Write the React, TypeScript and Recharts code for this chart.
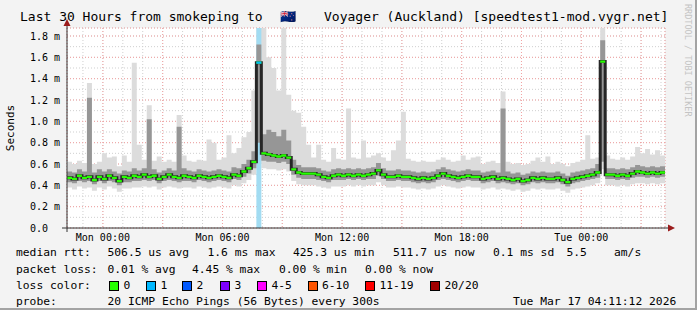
import {
  Area,
  CartesianGrid,
  ComposedChart,
  Line,
  ReferenceArea,
  XAxis,
  YAxis,
} from "recharts";

// samples every 15 min, hours counted from Mon 00:00
const START_HOUR = -1.8;
const STEP_HOUR = 0.25;

const median = [
  0.47, 0.46, 0.49, 0.47, 0.48, 0.45, 0.48, 0.46, 0.49, 0.47,
  0.44, 0.48, 0.47, 0.49, 0.48, 0.50, 0.48, 0.49, 0.46, 0.48,
  0.50, 0.48, 0.47, 0.49, 0.48, 0.47, 0.49, 0.48, 0.47, 0.48,
  0.49, 0.48, 0.47, 0.50, 0.49, 0.53, 0.56, 0.62, 1.55, 0.70,
  0.69, 0.68, 0.67, 0.68, 0.66, 0.55, 0.52, 0.51, 0.51, 0.51,
  0.50, 0.48, 0.47, 0.49, 0.50, 0.49, 0.50, 0.49, 0.50, 0.49,
  0.50, 0.51, 0.54, 0.50, 0.48, 0.48, 0.49, 0.48, 0.48, 0.47,
  0.46, 0.47, 0.46, 0.47, 0.49, 0.51, 0.49, 0.48, 0.47, 0.48,
  0.49, 0.48, 0.48, 0.46, 0.47, 0.48, 0.46, 0.47, 0.46, 0.45,
  0.46, 0.44, 0.45, 0.47, 0.46, 0.47, 0.46, 0.46, 0.47, 0.45,
  0.43, 0.46, 0.47, 0.48, 0.49, 0.50, 0.52, 1.56, 0.50, 0.50,
  0.49, 0.50, 0.49, 0.51, 0.53, 0.52, 0.51, 0.52, 0.51, 0.52,
  0.51,
];

const lower = [
  0.43, 0.42, 0.44, 0.43, 0.44, 0.41, 0.44, 0.42, 0.44, 0.43,
  0.40, 0.43, 0.43, 0.44, 0.44, 0.45, 0.44, 0.45, 0.42, 0.44,
  0.45, 0.44, 0.43, 0.44, 0.44, 0.43, 0.45, 0.44, 0.43, 0.44,
  0.45, 0.44, 0.43, 0.46, 0.45, 0.48, 0.51, 0.56, 0.80, 0.63,
  0.62, 0.62, 0.61, 0.62, 0.60, 0.50, 0.47, 0.46, 0.46, 0.46,
  0.45, 0.44, 0.43, 0.45, 0.45, 0.45, 0.46, 0.45, 0.46, 0.45,
  0.46, 0.46, 0.49, 0.46, 0.44, 0.44, 0.45, 0.44, 0.44, 0.43,
  0.42, 0.43, 0.42, 0.43, 0.45, 0.46, 0.45, 0.44, 0.43, 0.44,
  0.45, 0.44, 0.44, 0.42, 0.43, 0.44, 0.42, 0.43, 0.42, 0.41,
  0.42, 0.40, 0.41, 0.43, 0.42, 0.43, 0.42, 0.42, 0.43, 0.41,
  0.39, 0.42, 0.43, 0.44, 0.45, 0.46, 0.47, 0.62, 0.46, 0.46,
  0.45, 0.46, 0.45, 0.47, 0.48, 0.48, 0.47, 0.48, 0.47, 0.48,
  0.47,
];

const upper = [
  0.53, 0.52, 0.55, 0.53, 1.22, 0.52, 0.55, 0.53, 0.55, 0.53,
  0.51, 0.54, 0.53, 0.56, 0.54, 0.56, 1.02, 0.55, 0.52, 0.54,
  0.56, 0.54, 0.95, 0.56, 0.54, 0.53, 0.55, 0.54, 0.53, 0.54,
  0.55, 0.54, 0.53, 0.57, 0.56, 0.60, 0.64, 0.72, 1.72, 0.88,
  0.92, 0.90, 0.86, 0.92, 0.82, 0.64, 0.59, 0.57, 0.57, 0.57,
  0.56, 0.54, 0.53, 0.55, 0.56, 0.55, 0.56, 0.55, 0.56, 0.55,
  0.56, 0.57, 0.61, 0.56, 0.54, 0.54, 0.55, 0.54, 0.54, 0.53,
  0.52, 0.53, 0.52, 0.53, 0.55, 0.57, 0.55, 0.54, 0.53, 0.54,
  0.55, 0.54, 0.54, 0.52, 0.53, 0.54, 0.52, 1.12, 0.53, 0.51,
  0.52, 0.50, 0.51, 0.53, 0.52, 0.53, 0.52, 0.52, 0.53, 0.51,
  0.49, 0.52, 0.53, 0.54, 0.55, 0.56, 0.60, 1.76, 0.56, 0.56,
  0.55, 0.56, 0.55, 0.57, 0.59, 0.58, 0.57, 0.58, 0.57, 0.58,
  0.57,
];

const minRtt = [
  0.38, 0.36, 0.39, 0.37, 0.38, 0.35, 0.38, 0.36, 0.39, 0.37,
  0.34, 0.37, 0.37, 0.38, 0.38, 0.39, 0.38, 0.39, 0.36, 0.38,
  0.39, 0.38, 0.37, 0.38, 0.38, 0.37, 0.39, 0.38, 0.37, 0.38,
  0.39, 0.38, 0.37, 0.40, 0.39, 0.42, 0.45, 0.50, 0.60, 0.56,
  0.55, 0.55, 0.54, 0.55, 0.53, 0.44, 0.41, 0.40, 0.40, 0.40,
  0.39, 0.38, 0.37, 0.39, 0.39, 0.39, 0.40, 0.39, 0.40, 0.39,
  0.40, 0.40, 0.43, 0.40, 0.38, 0.38, 0.39, 0.38, 0.38, 0.37,
  0.36, 0.37, 0.36, 0.37, 0.39, 0.40, 0.39, 0.38, 0.37, 0.38,
  0.39, 0.38, 0.38, 0.36, 0.37, 0.38, 0.36, 0.37, 0.36, 0.35,
  0.36, 0.34, 0.35, 0.37, 0.36, 0.37, 0.36, 0.36, 0.37, 0.35,
  0.33, 0.36, 0.37, 0.38, 0.39, 0.40, 0.42, 0.55, 0.40, 0.40,
  0.39, 0.40, 0.39, 0.41, 0.42, 0.42, 0.41, 0.42, 0.41, 0.42,
  0.41,
];

const maxRtt = [
  0.62, 0.60, 0.63, 0.61, 1.36, 0.60, 0.62, 0.70, 0.66, 0.67,
  0.58, 0.68, 0.62, 1.55, 0.78, 0.64, 1.15, 0.63, 0.67, 0.62,
  0.64, 0.62, 1.06, 0.68, 0.63, 0.62, 0.64, 0.63, 0.83, 0.80,
  0.64, 0.66, 0.87, 0.70, 0.75, 0.85, 0.90, 1.29, 1.875, 1.875,
  1.60, 1.50, 1.29, 1.875, 1.25, 1.10, 1.08, 0.95, 0.78, 0.66,
  0.78, 0.64, 0.62, 0.75, 0.65, 0.64, 1.12, 0.66, 0.65, 0.82,
  0.66, 0.68, 0.70, 0.66, 0.63, 0.73, 0.82, 1.09, 0.65, 0.63,
  0.62, 0.63, 0.62, 0.62, 0.64, 0.66, 0.64, 0.62, 0.63, 0.68,
  0.64, 0.66, 0.67, 0.60, 0.62, 0.63, 0.61, 1.28, 0.62, 0.60,
  0.61, 0.59, 0.60, 0.63, 0.66, 0.62, 0.67, 0.60, 0.62, 0.60,
  0.58, 0.61, 0.62, 0.64, 0.87, 0.65, 0.66, 1.875, 0.68, 0.65,
  0.64, 0.66, 0.64, 0.67, 0.76, 0.70, 0.74, 0.69, 0.73, 0.68,
  0.66,
];

// sample indexes where one ping of 20 was lost
const lossSteps = [38];

const xTicks = [0, 6, 12, 18, 24];
const xTickLabels = ["Mon 00:00", "Mon 06:00", "Mon 12:00", "Mon 18:00", "Tue 00:00"];
const xMajor = [0, 3, 6, 9, 12, 15, 18, 21, 24, 27];
const xMinor = [
  -1, 0, 1, 2, 3, 4, 5, 6, 7, 8, 9, 10, 11, 12, 13, 14,
  15, 16, 17, 18, 19, 20, 21, 22, 23, 24, 25, 26, 27, 28,
];
const yTicks = [0, 0.2, 0.4, 0.6, 0.8, 1.0, 1.2, 1.4, 1.6, 1.8];
const yTickLabels = [
  "0.0\u00a0\u00a0", "0.2 m", "0.4 m", "0.6 m", "0.8 m",
  "1.0 m", "1.2 m", "1.4 m", "1.6 m", "1.8 m",
];
const yMinor = [
  0.1, 0.2, 0.3, 0.4, 0.5, 0.6, 0.7, 0.8, 0.9,
  1.0, 1.1, 1.2, 1.3, 1.4, 1.5, 1.6, 1.7, 1.8,
];

const lossLabels = ["0", "1", "2", "3", "4-5", "6-10", "11-19", "20/20"];
const lossColors = [
  "#26ff00", "#00b8ff", "#0059ff", "#7e00ff",
  "#ff00ff", "#ff5500", "#ff0000", "#a10000",
];

const MONO = "'DejaVu Sans Mono', monospace";
const X_DOMAIN: [number, number] = [-1.8, 28.2];
const Y_DOMAIN: [number, number] = [0, 1.875];
const MED_HALF = 0.011;

type Row = {
  t: number;
  lo: number;
  hi: number;
  q1: number;
  q3: number;
  med: number;
  loss: number | null;
};

const rows: Row[] = median.map((m, i) => ({
  t: START_HOUR + i * STEP_HOUR,
  lo: minRtt[i],
  hi: maxRtt[i],
  q1: lower[i],
  q3: upper[i],
  med: m,
  loss: lossSteps.includes(i) || lossSteps.includes(i - 1) ? m : null,
}));

function YTick(props: any) {
  const { x, y, payload } = props;
  const idx = yTicks.indexOf(payload.value);
  return (
    <text x={x} y={y} dy="0.355em" textAnchor="end" fontFamily={MONO} fontSize={10} fill="#000">
      {yTickLabels[idx] ?? ""}
    </text>
  );
}

const abs = (left: number, top: number, extra: React.CSSProperties = {}): React.CSSProperties => ({
  position: "absolute",
  left,
  top,
  whiteSpace: "pre",
  ...extra,
});

export default function App() {
  const lossStart = rows[lossSteps[0]].t;
  const lossEnd = rows[lossSteps[0] + 1].t;

  const legendRow = { fontFamily: MONO, fontSize: 11.3, lineHeight: "16px", color: "#000" };
  const titleStyle = { fontFamily: MONO, fontSize: 13, lineHeight: "15px", color: "#000" };

  return (
    <div
      style={{
        position: "absolute",
        left: 0,
        top: 0,
        width: 697,
        height: 310,
        boxSizing: "border-box",
        background: "#f3f3f3",
        borderRight: "2px solid #a3a3a3",
        borderBottom: "2px solid #a3a3a3",
        overflow: "hidden",
      }}
    >
      <div style={abs(0, 0)}>
        <ComposedChart
          width={697}
          height={260}
          data={rows}
          margin={{ top: 28, right: 32, bottom: 0, left: 0 }}
        >
          <XAxis
            dataKey="t"
            type="number"
            domain={X_DOMAIN}
            allowDataOverflow
            ticks={xTicks}
            tickFormatter={(v: number) => xTickLabels[xTicks.indexOf(v)] ?? ""}
            height={32}
            axisLine={false}
            tickLine={false}
            tickSize={0}
            tickMargin={6}
            tick={{ fontFamily: MONO, fontSize: 10, fill: "#000" }}
            interval={0}
          />
          <XAxis xAxisId="minor" dataKey="t" type="number" domain={X_DOMAIN} allowDataOverflow ticks={xMinor} hide interval={0} />
          <XAxis xAxisId="major" dataKey="t" type="number" domain={X_DOMAIN} allowDataOverflow ticks={xMajor} hide interval={0} />
          <YAxis
            type="number"
            domain={Y_DOMAIN}
            allowDataOverflow
            ticks={yTicks}
            width={67}
            axisLine={false}
            tickLine={false}
            tickSize={0}
            tickMargin={7}
            tick={<YTick />}
            interval={0}
          />
          <YAxis yAxisId="minor" type="number" domain={Y_DOMAIN} allowDataOverflow ticks={yMinor} hide interval={0} />

          <CartesianGrid
            xAxisId="minor"
            yAxisId="minor"
            stroke="#cfcfcf"
            strokeDasharray="1 2"
            fill="#ffffff"
            fillOpacity={1}
          />
          <CartesianGrid xAxisId="major" yAxisId={0} stroke="#f3a3a3" strokeDasharray="1 2" />

          <Area
            dataKey={(d: Row) => [d.lo, d.hi]}
            type="stepAfter"
            stroke="none"
            fill="#dcdcdc"
            fillOpacity={1}
            zIndex={100}
            isAnimationActive={false}
          />
          <ReferenceArea
            x1={lossStart}
            x2={lossEnd}
            fill="#a2dcf2"
            fillOpacity={1}
            stroke="none"
            zIndex={101}
          />
          <Area
            dataKey={(d: Row) => [d.q1, d.q3]}
            type="stepAfter"
            stroke="none"
            fill="#969696"
            fillOpacity={1}
            zIndex={102}
            isAnimationActive={false}
          />
          <Line
            dataKey="med"
            type="stepAfter"
            stroke="#262626"
            strokeWidth={3}
            dot={false}
            zIndex={400}
            isAnimationActive={false}
          />
          <Area
            dataKey={(d: Row) => [d.med - MED_HALF, d.med + MED_HALF]}
            type="stepAfter"
            stroke="none"
            fill={lossColors[0]}
            fillOpacity={1}
            zIndex={450}
            isAnimationActive={false}
          />
          <Area
            dataKey={(d: Row) => (d.loss == null ? null : [d.loss - MED_HALF, d.loss + MED_HALF])}
            type="stepAfter"
            stroke="none"
            fill={lossColors[1]}
            fillOpacity={1}
            connectNulls={false}
            zIndex={451}
            isAnimationActive={false}
          />
        </ComposedChart>
      </div>

      {/* axes with rrdtool style arrows */}
      <svg width={697} height={260} style={abs(0, 0, { pointerEvents: "none" })}>
        <line x1={67} y1={22} x2={67} y2={232} stroke="#333" strokeWidth={1} />
        <line x1={62} y1={228} x2={669} y2={228} stroke="#333" strokeWidth={1} />
        <polygon points="63.5,26 70.5,26 67,19" fill="#9b1c1c" />
        <polygon points="668,224.5 668,231.5 675,228" fill="#9b1c1c" />
      </svg>

      {/* title */}
      <div style={abs(20, 9, titleStyle)}>Last 30 Hours from smokeping to</div>
      <div style={abs(280, 9, titleStyle)}>🇳🇿</div>
      <div style={abs(324, 9, titleStyle)}>Voyager (Auckland) [speedtest1-mod.vygr.net]</div>

      {/* watermark */}
      <div
        style={abs(683, 4, {
          fontFamily: MONO,
          fontSize: 8.5,
          color: "#c4c4c4",
          writingMode: "vertical-rl",
        })}
      >
        RRDTOOL / TOBI OETIKER
      </div>

      {/* y label */}
      <div
        style={abs(10, 128, {
          fontFamily: MONO,
          fontSize: 11,
          color: "#000",
          transform: "translate(-50%, -50%) rotate(-90deg)",
        })}
      >
        Seconds
      </div>

      {/* legend */}
      <div style={{ ...abs(0, 245), ...legendRow }}>
        <span style={abs(16, 0)}>median rtt:</span>
        <span style={abs(107.5, 0)}>506.5 us avg</span>
        <span style={abs(207.5, 0)}>1.6 ms max</span>
        <span style={abs(293, 0)}>425.3 us min</span>
        <span style={abs(393, 0)}>511.7 us now</span>
        <span style={abs(493, 0)}>0.1 ms sd</span>
        <span style={abs(566.5, 0)}>5.5</span>
        <span style={abs(614, 0)}>am/s</span>
      </div>
      <div style={{ ...abs(0, 262), ...legendRow }}>
        <span style={abs(16, 0)}>packet loss:</span>
        <span style={abs(107.5, 0)}>0.01 % avg</span>
        <span style={abs(192, 0)}>4.45 % max</span>
        <span style={abs(279, 0)}>0.00 % min</span>
        <span style={abs(365, 0)}>0.00 % now</span>
      </div>
      <div style={{ ...abs(0, 278), ...legendRow }}>
        <span style={abs(16, 0)}>loss color:</span>
        {lossLabels.map((lab, i) => {
          const boxX = [109, 146, 182, 220, 257, 307.5, 365, 430][i];
          return (
            <span key={lab}>
              <span
                style={abs(boxX, 3, {
                  width: 8,
                  height: 8,
                  border: "1px solid #000",
                  background: lossColors[i],
                })}
              />
              <span style={abs(boxX + 14.5, 0)}>{lab}</span>
            </span>
          );
        })}
      </div>
      <div style={{ ...abs(0, 294), ...legendRow }}>
        <span style={abs(16, 0)}>probe:</span>
        <span style={abs(107.5, 0)}>20 ICMP Echo Pings (56 Bytes) every 300s</span>
        <span style={abs(513, 0)}>Tue Mar 17 04:11:12 2026</span>
      </div>
    </div>
  );
}
